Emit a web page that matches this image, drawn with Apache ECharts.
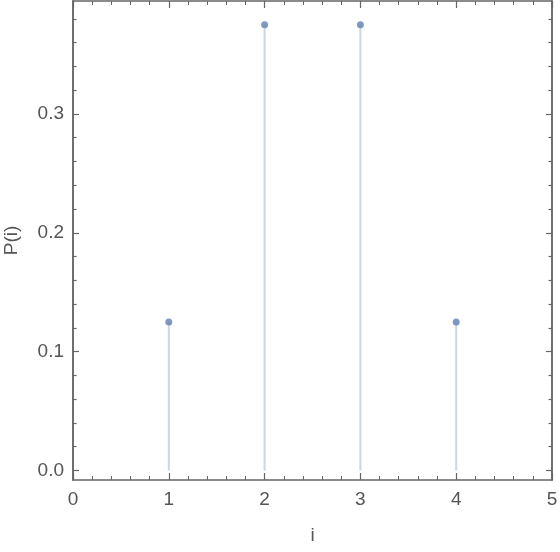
<!DOCTYPE html>
<html>
<head>
<meta charset="utf-8">
<script src="https://cdn.jsdelivr.net/npm/echarts@6/dist/echarts.min.js"></script>
<style>
  html, body { margin: 0; padding: 0; background: #fff; }
  #chart { width: 560px; height: 552px; }
</style>
</head>
<body>
<div id="chart"></div>
<script>
// values
var xValues = [1, 2, 3, 4];
var probs = [0.125, 0.375, 0.375, 0.125];
var yMajorTicks = [0, 0.1, 0.2, 0.3];
var yMinorTicks = [0.02, 0.04, 0.06, 0.08, 0.12, 0.14, 0.16, 0.18, 0.22, 0.24, 0.26, 0.28, 0.32, 0.34, 0.36, 0.38];

var pts = xValues.map(function (x, i) { return [x, probs[i]]; });

var frameColor = "#666";
var labelColor = "#555";
var fontFam = "Liberation Sans, Arial, sans-serif";

var myChart = echarts.init(document.getElementById("chart"));

function xAx(pos, showLabel) {
  return {
    type: "value",
    position: pos,
    min: 0,
    max: 5,
    interval: 1,
    name: pos === "bottom" ? "i" : "",
    nameLocation: "middle",
    nameGap: 46,
    nameTextStyle: { color: labelColor, fontSize: 19, fontFamily: fontFam },
    axisLine: { show: true, onZero: false, lineStyle: { color: frameColor, width: 1.5 } },
    axisTick: { show: true, inside: true, length: 7, lineStyle: { color: frameColor, width: 1.2 } },
    minorTick: { show: true, splitNumber: 5, length: 4, lineStyle: { color: frameColor, width: 1 } },
    axisLabel: { show: showLabel, color: labelColor, fontSize: 19, fontFamily: fontFam, margin: 10 },
    splitLine: { show: false }
  };
}

function yAx(pos, ticks, len, showLabel, withName) {
  return {
    type: "value",
    position: pos,
    min: -0.008,
    max: 0.395,
    name: withName ? "P(i)" : "",
    nameLocation: "middle",
    nameGap: 52,
    nameTextStyle: { color: labelColor, fontSize: 19, fontFamily: fontFam },
    axisLine: { show: true, onZero: false, lineStyle: { color: frameColor, width: 1.5 } },
    axisTick: { show: true, inside: true, length: len, customValues: ticks, lineStyle: { color: frameColor, width: 1.2 } },
    axisLabel: {
      show: showLabel, customValues: ticks, color: labelColor, fontSize: 19, fontFamily: fontFam, margin: 9,
      formatter: function (v) { return v.toFixed(1); }
    },
    splitLine: { show: false }
  };
}

var option = {
  animation: false,
  grid: { left: 73, right: 8, top: 1, bottom: 72, containLabel: false, outerBoundsMode: "none" },
  xAxis: [xAx("bottom", true), xAx("top", false)],
  yAxis: [
    yAx("left", yMajorTicks, 6, true, true),
    yAx("left", yMinorTicks, 3.5, false, false),
    yAx("right", yMajorTicks, 6, false, false),
    yAx("right", yMinorTicks, 3.5, false, false)
  ],
  series: [
    {
      name: "stem",
      type: "bar",
      data: pts,
      barWidth: 2,
      itemStyle: { color: "#cad6ea" },
      silent: true
    },
    {
      name: "P",
      type: "scatter",
      data: pts,
      symbolSize: 7,
      itemStyle: { color: "#5e81b5" },
      z: 3
    }
  ]
};

myChart.setOption(option);
</script>
</body>
</html>
